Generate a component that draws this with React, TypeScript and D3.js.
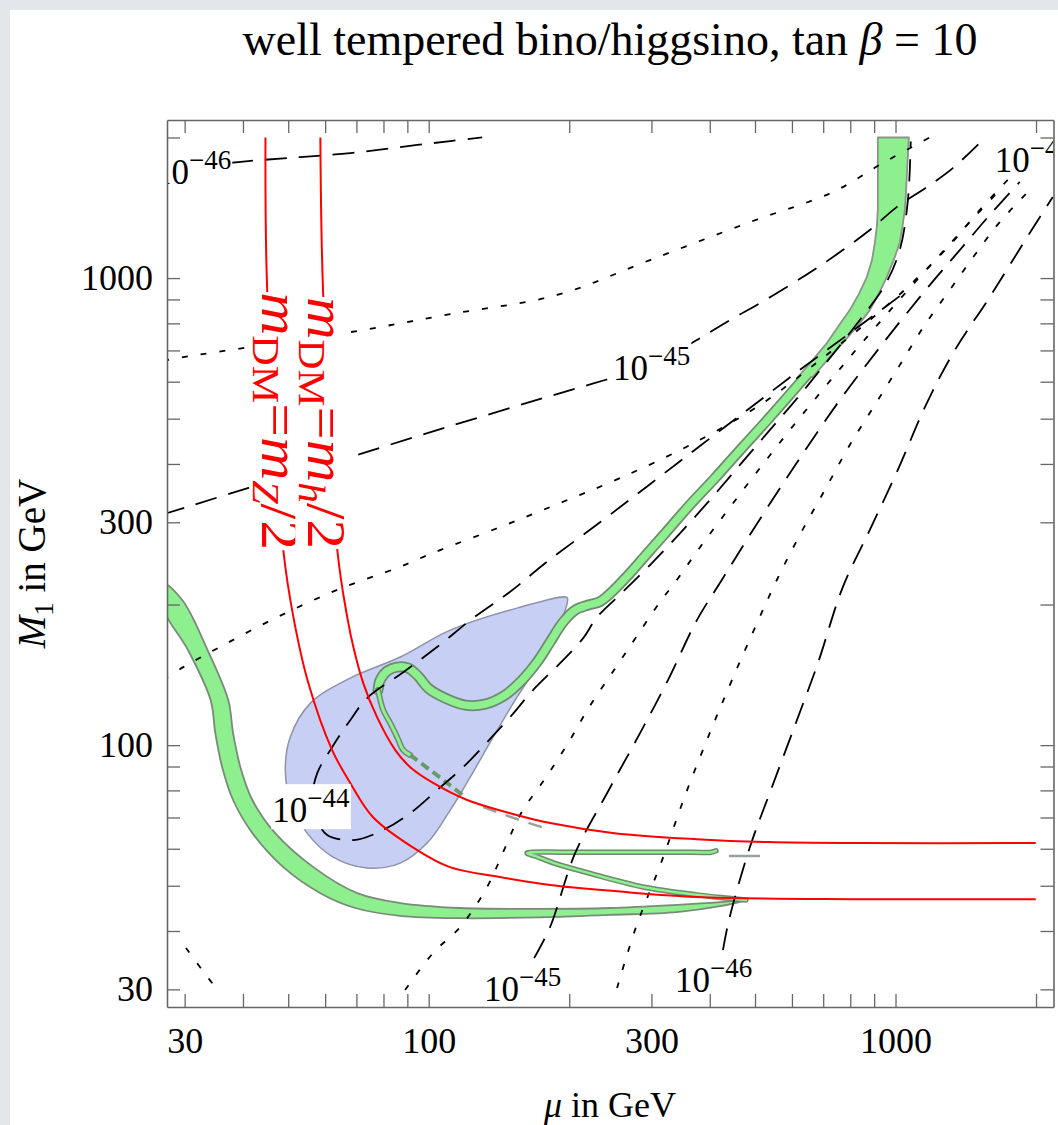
import React, { useEffect, useRef } from "react";
import * as d3 from "d3";

type Pt = [number, number]; // [mu, M1] in GeV

const W = 1058;
const H = 1125;
const LEFT = 167;
const RIGHT = 1053.5;
const TOP = 120;
const BOTTOM = 1007;
const DOMAIN: [number, number] = [27.5, 2180];
const SERIF = "'Liberation Serif', 'Times New Roman', serif";

const TICK_LABELS = [30, 100, 300, 1000];
const TICK_MINOR = [40, 50, 60, 70, 80, 90, 200, 400, 500, 600, 700, 800, 900, 2000];

// red lines: m_DM = m_Z/2 and m_DM = m_h/2
const mzHalf: Pt[] = [
  [44.7, 2000], [45.1, 929], [48.8, 262], [51.3, 188], [55.2, 136], [62.1, 97.6], [67.9, 83.0],
  [76.0, 70.1], [94.5, 59.6], [111, 54.8], [142, 52.2], [182, 50.2], [250, 48.7], [375, 47.3],
  [830, 46.8], [1997, 46.8],
];
const mhHalf: Pt[] = [
  [58.6, 2000], [59.4, 929], [63.7, 262], [66.9, 188], [69.2, 159.8], [72.4, 135.8], [77.5, 114.8],
  [84.8, 97.6], [91.3, 89.7], [102.2, 83.0], [120.9, 76.3], [149.4, 71.5], [182, 68.1],
  [250, 64.8], [375.4, 62.9], [533, 62.0], [830, 61.7], [1997, 61.7],
];

// sigma_SI contours (dashed = decades, dotted = in between)
const sig46Top: Pt[] = [[27.0, 1700], [39.1, 1772], [53.1, 1816], [67.9, 1852], [86.9, 1908], [111.2, 1965], [130.2, 2000]];
const dotUpper1: Pt[] = [
  [27.0, 665], [29.8, 677], [41.5, 712], [67.9, 766], [111.2, 837], [188.4, 920], [297.9, 1093],
  [487.7, 1318], [734, 1528], [939, 1763], [1184, 2000],
];
const sig45Upper: Pt[] = [
  [27.0, 312], [43.6, 362], [67.9, 414], [111.2, 482], [182, 559], [238.7, 605], [302.3, 651],
  [375.4, 737], [441.9, 813], [512.5, 884], [594, 966], [678.6, 1051], [771, 1148], [881, 1267],
  [1006, 1419], [1167, 1566], [1327, 1720], [1515, 1946],
];
const dotUpper2: Pt[] = [
  [27.0, 138], [29.8, 146.9], [36.3, 163.7], [47.4, 188], [63.7, 215], [86.9, 241], [102.2, 258],
  [142.2, 293], [191.2, 330], [256.9, 373], [362.8, 439], [512.5, 535], [688.7, 667], [881, 813],
  [1073, 966], [1307, 1177], [1515, 1399], [1739, 1622],
];
const sig44: Pt[] = [
  [1021, 915], [798, 762], [624, 636], [487.7, 527], [381, 437], [297.9, 362], [232.8, 300],
  [179.3, 247], [149.4, 213], [124.5, 187.1], [104.2, 162.2], [88.2, 143.3], [73.8, 126.1],
  [67.9, 113.1], [62.1, 99.0], [57.7, 87.1], [56.3, 76.3], [58.0, 68.4], [60.6, 64.2], [68.9, 62.6],
  [79.9, 65.8], [91.3, 71.5], [104.2, 80.1], [118.5, 89.7], [133.4, 101.5], [149.4, 114.8],
  [167.3, 131.2], [191.2, 149.8], [214.2, 169.5], [229.5, 188.0], [256.9, 210], [297.9, 243],
  [345.3, 284], [400.4, 335], [464.2, 398], [538.3, 473], [624, 562], [723, 674], [838.5, 813],
  [949, 966], [1021, 1148], [1063, 1469], [1078, 1960],
];
const dotLower1: Pt[] = [
  [89.0, 29.9], [102.2, 35.9], [116.8, 40.8], [133.4, 49.7], [145.0, 59.6], [157.7, 71.5],
  [178.4, 85.4], [198.9, 101.0], [220.6, 120.6], [249.5, 144.8], [278.1, 170.3], [314.5, 204],
  [337.0, 223], [381.0, 265], [441.9, 323], [512.5, 392], [594, 473], [688.7, 567], [798, 677],
  [925.6, 805], [1073, 952], [1244, 1120], [1442, 1318], [1672, 1543],
];
const sig45Lower: Pt[] = [
  [168.2, 35.0], [182.0, 40.8], [205.9, 58.7], [241.0, 78.9], [283.6, 106.1], [325.5, 137.8],
  [375.4, 185.2], [424.8, 226], [487.7, 282], [565.5, 355], [655.5, 443], [759.8, 548], [881, 667],
  [1021, 805], [1184, 966], [1373, 1148], [1592, 1365], [1846, 1606],
];
const dotLower2: Pt[] = [
  [253.2, 30.2], [278.1, 40.8], [314.5, 55.9], [355.7, 78.9], [402.4, 107.7], [446.3, 137.8],
  [505, 182.5], [557.2, 226], [624, 282], [705.8, 352], [798, 439], [903, 535], [1021, 651],
  [1155, 793], [1307, 943], [1478, 1120], [1672, 1318], [1939, 1543],
];
const sig46Lower: Pt[] = [
  [426.9, 36.4], [439.7, 42.2], [487.7, 60.5], [543.6, 81.3], [614.9, 113.1], [681.9, 149.8],
  [771.1, 218], [881, 289], [1011, 388], [1167, 540], [1340, 701], [1592, 911], [1939, 1249], [2172, 1491],
];
const dotCorner: Pt[] = [[30.2, 36.8], [32.7, 33.0], [35.6, 29.6]];

// relic density band (green) and excluded region (blue)
const greenLow: Pt[] = [
  [27.0, 222], [29.7, 204], [33.6, 159.8], [37.2, 124.9], [38.1, 106.1], [39.5, 89.7], [41.9, 76.3],
  [46.9, 64.8], [56.6, 54.8], [70.3, 48.2], [86.9, 45.9], [116.8, 44.8], [174.1, 44.6], [244.6, 44.8],
  [340.3, 45.5], [420.6, 46.1], [478.2, 46.6], [420.6, 45.2], [340.3, 43.9], [244.6, 43.3],
  [174.1, 42.8], [116.8, 42.6], [86.9, 43.1], [69.6, 44.8], [58.6, 48.2], [48.8, 54.8], [41.9, 64.8],
  [38.1, 76.3], [36.1, 89.7], [34.9, 106.1], [34.1, 124.9], [30.5, 159.8], [27.0, 196],
];
const greenArm: Pt[] = [
  [478.2, 46.6], [439.7, 47.0], [375.4, 47.8], [287.7, 49.7], [220.6, 53.2], [185.6, 55.9],
  [169.0, 57.9], [162.4, 58.7], [167.3, 59.0], [191.2, 59.0], [256.9, 59.0], [345.3, 59.0],
  [402.4, 59.0], [412.4, 59.4],
];
const greyDash: Pt[] = [[439.7, 57.9], [512.5, 57.9]];
const greenTop: Pt[] = [
  [916.5, 2000], [1068, 2000], [1062, 1800], [1057, 1646], [1052, 1500], [1047, 1399], [1035, 1290],
  [1021, 1189], [990, 1090], [958, 1005], [920, 925], [881, 854], [830, 790], [771, 726], [715, 668],
  [665, 614], [617.9, 614], [665, 668], [712.8, 726], [755, 790], [798, 854], [835, 925], [868, 1005],
  [890, 1090], [903, 1189], [912, 1290], [916.5, 1399], [916.5, 1646], [916.5, 1800],
];
const greenStrip: Pt[] = [
  [741, 726], [639.6, 614], [579.6, 548], [520.1, 485], [464.2, 428], [410.4, 373], [362.8, 327],
  [320.8, 284], [290.6, 254], [267.3, 231], [247.0, 213], [232.8, 203], [219.5, 199.5], [205.9, 194.6],
  [194.0, 183.4], [182.0, 166.2], [170.7, 150.6], [158.5, 137.8], [145.7, 128.0], [132.1, 122.4],
  [119.7, 121.8], [108.4, 126.1], [99.7, 132.5], [94.9, 140.5], [90.4, 146.2], [85.6, 146.9],
  [81.5, 144.1], [78.7, 137.8], [77.9, 131.2],
];
const greenTail: Pt[] = [[77.9, 131.2], [79.9, 118.9], [82.7, 111.5], [85.6, 104.0], [88.2, 97.6], [91.3, 95.2]];
const greenTailDash: Pt[] = [[91.3, 95.2], [109.5, 83.0], [119.7, 77.4]];
const greyTailDash: Pt[] = [[130.8, 73.7], [142.2, 71.5], [156.9, 69.1], [177.6, 66.4]];
const blueRegion: Pt[] = [
  [197.9, 207], [154.6, 196.5], [111.2, 176.3], [86.9, 154.4], [67.9, 139.2], [55.8, 123.0],
  [50.5, 104.0], [49.3, 88.4], [50.5, 76.3], [54.9, 64.8], [62.4, 57.6], [73.8, 54.6], [86.9, 55.9],
  [99.2, 61.7], [111.2, 72.6], [122.7, 85.4], [137.4, 104.0], [154.6, 126.7], [175.8, 154.4],
  [191.2, 182.5], [197.9, 201],
];

// contour labels: exponent of 10 and where the text starts
const labelExps = ["46", "45", "44", "45", "46", "45"];
const labelAt: Pt[] = [[25.8, 1589], [248.3, 605], [46.2, 68.4], [131.4, 28.3], [337, 29.6], [1632, 1687]];

export default function App() {
  const ref = useRef<SVGSVGElement>(null);

  useEffect(() => {
    const svg = d3.select(ref.current);
    svg.selectAll("*").remove();

    const x = d3.scaleLog().domain(DOMAIN).range([LEFT, RIGHT]);
    const y = d3.scaleLog().domain(DOMAIN).range([BOTTOM, TOP]);
    const line = d3.line<Pt>().x((d) => x(d[0])).y((d) => y(d[1])).curve(d3.curveCatmullRom.alpha(0.5));
    const closed = d3.line<Pt>().x((d) => x(d[0])).y((d) => y(d[1])).curve(d3.curveCatmullRomClosed.alpha(0.5));
    const poly = d3.line<Pt>().x((d) => x(d[0])).y((d) => y(d[1])).curve(d3.curveLinearClosed);

    svg.append("rect").attr("width", W).attr("height", H).attr("fill", "#e3e7eb");
    svg.append("rect").attr("x", 10).attr("y", 10).attr("width", W - 10).attr("height", H - 10).attr("fill", "#fff");

    svg.append("defs").append("clipPath").attr("id", "plotclip")
      .append("rect").attr("x", LEFT).attr("y", TOP).attr("width", RIGHT - LEFT).attr("height", BOTTOM - TOP);
    const plot = svg.append("g").attr("clip-path", "url(#plotclip)");

    // blue region
    plot.append("path").attr("d", closed(blueRegion)).attr("fill", "#c8cff5")
      .attr("stroke", "#8d92a6").attr("stroke-width", 1.5);

    // green bands
    const band = (pts: Pt[], w: number) => {
      plot.append("path").attr("d", line(pts)).attr("fill", "none").attr("stroke", "#6f8a6f")
        .attr("stroke-width", w + 3).attr("stroke-linejoin", "round").attr("stroke-linecap", "round");
      plot.append("path").attr("d", line(pts)).attr("fill", "none").attr("stroke", "#8eef8e")
        .attr("stroke-width", w).attr("stroke-linejoin", "round").attr("stroke-linecap", "round");
    };
    plot.append("path").attr("d", closed(greenLow)).attr("fill", "#8eef8e").attr("stroke", "#7a8a7a").attr("stroke-width", 1.8);
    band(greenArm, 2.5);
    plot.append("path").attr("d", line(greyDash)).attr("stroke", "#9aa09a").attr("stroke-width", 2.5).attr("fill", "none");
    plot.append("path").attr("d", line(greenStrip)).attr("fill", "none").attr("stroke", "#6f8a6f")
      .attr("stroke-width", 11).attr("stroke-linejoin", "round").attr("stroke-linecap", "round");
    plot.append("path").attr("d", poly(greenTop)).attr("fill", "#8eef8e").attr("stroke", "#8a948a")
      .attr("stroke-width", 1.8).attr("stroke-linejoin", "round");
    plot.append("path").attr("d", line(greenStrip)).attr("fill", "none").attr("stroke", "#8eef8e")
      .attr("stroke-width", 7.5).attr("stroke-linejoin", "round").attr("stroke-linecap", "round");
    band(greenTail, 3);
    plot.append("path").attr("d", line(greenTailDash)).attr("fill", "none").attr("stroke", "#6a9a6a")
      .attr("stroke-width", 4).attr("stroke-dasharray", "9 5");
    plot.append("path").attr("d", line(greyTailDash)).attr("fill", "none").attr("stroke", "#9aa09a")
      .attr("stroke-width", 2.5).attr("stroke-dasharray", "14 10");

    // contours
    const dashed: Pt[][] = [sig46Top, sig45Upper, sig44, sig45Lower, sig46Lower];
    const dotted: Pt[][] = [dotUpper1, dotUpper2, dotLower1, dotLower2, dotCorner];
    dashed.forEach((c) => plot.append("path").attr("d", line(c)).attr("fill", "none")
      .attr("stroke", "#000").attr("stroke-width", 1.8).attr("stroke-dasharray", "22 12"));
    dotted.forEach((c) => plot.append("path").attr("d", line(c)).attr("fill", "none")
      .attr("stroke", "#000").attr("stroke-width", 1.8).attr("stroke-dasharray", "6 13"));

    // red lines
    [mzHalf, mhHalf].forEach((c) => plot.append("path").attr("d", line(c)).attr("fill", "none")
      .attr("stroke", "#ff0000").attr("stroke-width", 2));

    // red labels, rotated
    const massLabel = (at: Pt, sub: string, len: number) => {
      const g = plot.append("g").attr("transform", `translate(${x(at[0])},${y(at[1])}) rotate(90)`);
      const t = g.append("text").attr("font-family", SERIF).attr("font-size", 54).attr("fill", "#ff0000")
        .attr("textLength", len).attr("lengthAdjust", "spacingAndGlyphs");
      t.append("tspan").attr("font-style", "italic").text("m");
      t.append("tspan").attr("font-size", 38).attr("dy", 9).text("DM");
      t.append("tspan").attr("dy", -9).text("=");
      t.append("tspan").attr("font-style", "italic").text("m");
      t.append("tspan").attr("font-size", 38).attr("dy", 9).attr("font-style", "italic").text(sub);
      t.append("tspan").attr("dy", -9).text("/2");
      const b = (t.node() as SVGTextElement).getBBox();
      g.insert("rect", "text").attr("x", b.x).attr("y", b.y + 6).attr("width", b.width).attr("height", b.height - 10).attr("fill", "#fff");
    };
    massLabel([44.0, 933], "Z", 258);
    massLabel([55.2, 911], "h", 252);

    // contour labels
    labelAt.forEach((at, i) => {
      const g = plot.append("g");
      const t = g.append("text").attr("x", x(at[0])).attr("y", y(at[1])).attr("font-family", SERIF).attr("font-size", 35);
      t.append("tspan").text("10");
      t.append("tspan").attr("dy", -15).attr("font-size", 27).text("\u2212" + labelExps[i]);
      const b = (t.node() as SVGTextElement).getBBox();
      g.insert("rect", "text").attr("x", b.x - 1).attr("y", b.y + 1).attr("width", b.width + 2).attr("height", b.height - 2).attr("fill", "#fff");
    });

    // axes / frame
    const fmt = (v: d3.NumberValue) => (TICK_LABELS.includes(+v) ? String(v) : "");
    const ticks = [...TICK_LABELS, ...TICK_MINOR];
    const axes = svg.append("g");
    axes.append("g").attr("transform", `translate(0,${BOTTOM})`)
      .call(d3.axisBottom(x).tickValues(ticks).tickSize(-13).tickSizeOuter(0).tickPadding(20).tickFormat(fmt));
    axes.append("g").attr("transform", `translate(0,${TOP})`)
      .call(d3.axisTop(x).tickValues(ticks).tickSize(-13).tickSizeOuter(0).tickFormat(() => ""));
    axes.append("g").attr("transform", `translate(${LEFT},0)`)
      .call(d3.axisLeft(y).tickValues(ticks).tickSize(-13).tickSizeOuter(0).tickPadding(14).tickFormat(fmt));
    axes.append("g").attr("transform", `translate(${RIGHT},0)`)
      .call(d3.axisRight(y).tickValues(ticks).tickSize(-13).tickSizeOuter(0).tickFormat(() => ""));
    axes.selectAll("path.domain").attr("stroke", "#666").attr("stroke-width", 1.6);
    axes.selectAll(".tick line").attr("stroke", "#666").attr("stroke-width", 1.3);
    axes.selectAll("text").attr("font-family", SERIF).attr("font-size", 36).attr("fill", "#000");

    // titles
    const title = svg.append("text").attr("x", 610).attr("y", 55).attr("text-anchor", "middle")
      .attr("font-family", SERIF).attr("font-size", 46);
    title.append("tspan").text("well tempered bino/higgsino, tan ");
    title.append("tspan").attr("font-style", "italic").text("\u03b2");
    title.append("tspan").text(" = 10");

    const xl = svg.append("text").attr("x", 610).attr("y", 1117).attr("text-anchor", "middle")
      .attr("font-family", SERIF).attr("font-size", 36);
    xl.append("tspan").attr("font-style", "italic").text("\u03bc");
    xl.append("tspan").text(" in GeV");

    const yl = svg.append("text").attr("transform", `translate(45,${(TOP + BOTTOM) / 2}) rotate(-90)`)
      .attr("text-anchor", "middle").attr("font-family", SERIF).attr("font-size", 39);
    yl.append("tspan").attr("font-style", "italic").text("M");
    yl.append("tspan").attr("font-size", 27).attr("dy", 8).text("1");
    yl.append("tspan").attr("dy", -8).text(" in GeV");
  }, []);

  return <svg ref={ref} width={W} height={H} style={{ position: "absolute", left: 0, top: 0 }} />;
}
